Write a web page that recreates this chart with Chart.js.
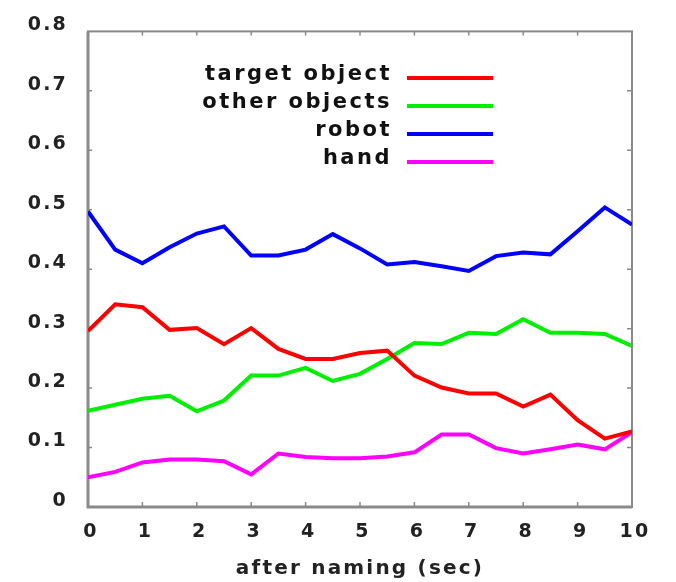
<!DOCTYPE html>
<html>
<head>
<meta charset="utf-8">
<script src="https://cdn.jsdelivr.net/npm/chart.js@4/dist/chart.umd.min.js"></script>
<style>
  html, body { margin: 0; padding: 0; background: #fff; }
  #wrap { width: 676px; height: 582px; }
</style>
</head>
<body>
<div id="wrap"><canvas id="naming"></canvas></div>
<script>
"use strict"

// seconds after naming, sampled every half second
const seconds = [0, 0.5, 1, 1.5, 2, 2.5, 3, 3.5, 4, 4.5, 5, 5.5, 6, 6.5, 7, 7.5, 8, 8.5, 9, 9.5, 10]

const targetObject = [0.296, 0.341, 0.336, 0.298, 0.301, 0.274, 0.301, 0.266, 0.249, 0.249, 0.259,
    0.263, 0.221, 0.201, 0.191, 0.191, 0.169, 0.189, 0.146, 0.115, 0.127]
const otherObjects = [0.162, 0.172, 0.182, 0.187, 0.161, 0.179, 0.221, 0.221, 0.234, 0.212, 0.224,
    0.249, 0.276, 0.274, 0.293, 0.291, 0.316, 0.293, 0.293, 0.291, 0.271]
const robot = [0.497, 0.433, 0.410, 0.437, 0.460, 0.472, 0.423, 0.423, 0.433, 0.459, 0.435,
    0.408, 0.412, 0.405, 0.397, 0.422, 0.428, 0.425, 0.464, 0.504, 0.475]
const hand = [0.050, 0.059, 0.075, 0.080, 0.080, 0.077, 0.055, 0.090, 0.084, 0.082, 0.082,
    0.085, 0.092, 0.122, 0.122, 0.099, 0.090, 0.097, 0.105, 0.097, 0.126]

const xTicks = [0, 1, 2, 3, 4, 5, 6, 7, 8, 9, 10]
const yTicks = [0, 0.1, 0.2, 0.3, 0.4, 0.5, 0.6, 0.7, 0.8]

const seriesNames = ['target object', 'other objects', 'robot', 'hand']
const seriesColors = ['#ff0000', '#00ee00', '#0000ff', '#ff00ff']

const FONT = 'DejaVu Sans'
const SPACING = '2.2px'   // the original lettering is stretched wide

let toPoints = values => values.map((v, i) => ({ x: seconds[i], y: v }))

const spacingPlugin = {
    id: 'spacing',
    beforeUpdate(chart) { chart.ctx.letterSpacing = SPACING },
    beforeDraw(chart) { chart.ctx.letterSpacing = SPACING }
}

// frame with small inward tick marks on all four sides
const framePlugin = {
    id: 'frame',
    beforeDatasetsDraw(chart) {
        const { ctx, chartArea: a, scales } = chart
        ctx.save()
        ctx.strokeStyle = '#8a8a8a'
        ctx.lineWidth = 2
        ctx.strokeRect(a.left, a.top, a.right - a.left, a.bottom - a.top)
        ctx.lineWidth = 3
        ctx.beginPath()
        ctx.moveTo(a.left, a.top)
        ctx.lineTo(a.left, a.bottom)
        ctx.lineTo(a.right, a.bottom)
        ctx.stroke()
        ctx.lineWidth = 1.5
        ctx.beginPath()
        xTicks.slice(1, -1).forEach(t => {
            let px = scales.x.getPixelForValue(t)
            ctx.moveTo(px, a.bottom); ctx.lineTo(px, a.bottom - 5)
            ctx.moveTo(px, a.top); ctx.lineTo(px, a.top + 4)
        })
        yTicks.slice(1, -1).forEach(t => {
            let py = scales.y.getPixelForValue(t)
            ctx.moveTo(a.left, py); ctx.lineTo(a.left + 4, py)
            ctx.moveTo(a.right, py); ctx.lineTo(a.right - 5, py)
        })
        ctx.stroke()
        ctx.restore()
    }
}

// legend inside the plot: label on the left, line sample on the right
const legendPlugin = {
    id: 'innerLegend',
    afterDatasetsDraw(chart) {
        const { ctx } = chart
        ctx.save()
        ctx.font = 'bold 21px "' + FONT + '"'
        ctx.letterSpacing = '2.5px'
        ctx.textAlign = 'right'
        ctx.textBaseline = 'alphabetic'
        chart.data.datasets.forEach((ds, i) => {
            let y = 78 + i * 28
            ctx.fillStyle = '#111'
            ctx.fillText(ds.label, 392, y + 2)
            ctx.strokeStyle = ds.borderColor
            ctx.lineWidth = 4
            ctx.beginPath()
            ctx.moveTo(407, y)
            ctx.lineTo(493, y)
            ctx.stroke()
        })
        ctx.restore()
    }
}

const chart = new Chart(document.getElementById('naming'), {
    type: 'line',
    data: {
        datasets: [targetObject, otherObjects, robot, hand].map((vals, i) => ({
            label: seriesNames[i],
            data: toPoints(vals),
            borderColor: seriesColors[i],
            borderWidth: 4,
            pointRadius: 0,
            tension: 0,
            fill: false
        }))
    },
    options: {
        responsive: true,
        maintainAspectRatio: false,
        animation: false,
        layout: { padding: { left: 0, right: 44, top: 29, bottom: 0 } },
        plugins: {
            legend: { display: false },
            tooltip: { enabled: false }
        },
        scales: {
            x: {
                type: 'linear',
                min: 0,
                max: 10,
                afterBuildTicks: scale => { scale.ticks = xTicks.map(v => ({ value: v })) },
                afterFit: scale => { scale.height = 75 },
                grid: { display: false, drawTicks: false },
                border: { display: false },
                ticks: {
                    padding: 14,
                    labelOffset: 3,
                    color: '#222',
                    font: { family: FONT, size: 19, weight: 'bold' },
                    maxRotation: 0,
                    callback: v => String(v)
                },
                title: {
                    display: true,
                    text: 'after naming (sec)',
                    color: '#222',
                    font: { family: FONT, size: 20, weight: 'bold' },
                    padding: { top: 4, bottom: 1 }
                }
            },
            y: {
                min: 0,
                max: 0.8,
                afterBuildTicks: scale => { scale.ticks = yTicks.map(v => ({ value: v })) },
                afterFit: scale => { scale.width = 88 },
                grid: { display: false, drawTicks: false },
                border: { display: false },
                ticks: {
                    padding: 20,
                    labelOffset: -6,
                    color: '#222',
                    font: { family: FONT, size: 19, weight: 'bold' },
                    callback: v => v === 0 ? '0' : v.toFixed(1)
                }
            }
        }
    },
    plugins: [spacingPlugin, framePlugin, legendPlugin]
})
</script>
</body>
</html>
